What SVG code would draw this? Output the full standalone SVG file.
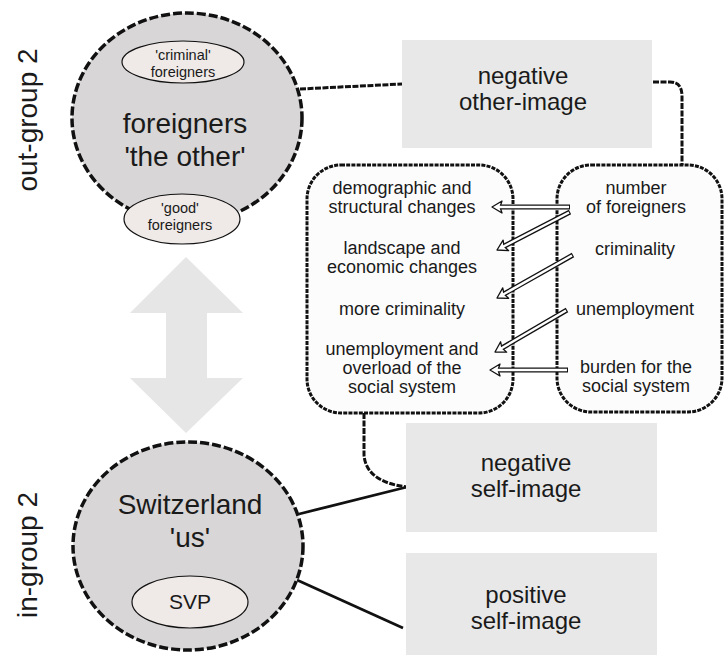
<svg xmlns="http://www.w3.org/2000/svg" width="726" height="655" viewBox="0 0 726 655">
<defs>
<style>
text{font-family:"Liberation Sans",Arial,sans-serif;fill:#1a1a1a;text-anchor:middle}
.big{font-size:28px}
.box{font-size:24px}
.mid{font-size:18px}
.sm{font-size:14.5px}
.grp{fill:#d8d6d6;stroke:#111;stroke-width:3.5;stroke-dasharray:9 3}
.oval{fill:#efe9e7;stroke:#111;stroke-width:1.2}
.rect{fill:#e8e8e8}
.rbox{fill:#fcfcfc;stroke:#111;stroke-width:3;stroke-dasharray:4 1.2}
.dash{fill:none;stroke:#111;stroke-width:3;stroke-dasharray:6 1.5}
.solid{fill:none;stroke:#111;stroke-width:2.8}
.ao{fill:none;stroke:#111;stroke-width:5}
.ai{fill:none;stroke:#fff;stroke-width:2.4}
.ah{fill:#fff;stroke:#111;stroke-width:1.3;stroke-linejoin:round}
</style>
<polygon id="ah" points="0,0 -10,-6 -8,0 -10,6"/>
</defs>
<rect width="726" height="655" fill="#fff"/>

<g id="labels">
<text class="big" transform="translate(37,120) rotate(-90)">out-group 2</text>
<text class="big" transform="translate(37,555) rotate(-90)">in-group 2</text>
</g>

<g id="double-arrow">
<polygon fill="#e6e6e6" points="186,257 243,313 207,313 207,378 243,378 186,433 130,378 166,378 166,313 130,313"/>
</g>

<g id="connectors">
<path class="dash" d="M300,89 L402,84"/>
<path class="dash" d="M653,82 H670 Q682,82 682,96 V166"/>
<path class="dash" d="M364,413 V455 Q366,482 407,487"/>
<path class="solid" d="M299,514 L407,487"/>
<path class="solid" d="M297,580 L403,628"/>
</g>

<g id="out-group">
<ellipse class="grp" cx="187" cy="118" rx="115" ry="105"/>
<text class="big" x="185" y="133">foreigners</text>
<text class="big" x="185" y="166">'the other'</text>
</g>
<g id="criminal-foreigners">
<ellipse class="oval" cx="183" cy="62" rx="61" ry="21"/>
<text class="sm" x="183" y="60">'criminal'</text>
<text class="sm" x="183" y="77">foreigners</text>
</g>
<g id="good-foreigners">
<ellipse class="oval" cx="182" cy="219" rx="58" ry="25"/>
<text class="sm" x="180" y="213">'good'</text>
<text class="sm" x="180" y="230">foreigners</text>
</g>

<g id="in-group">
<ellipse class="grp" cx="188" cy="546" rx="115" ry="104"/>
<text class="big" x="190" y="514">Switzerland</text>
<text class="big" x="190" y="547">'us'</text>
</g>
<g id="svp">
<ellipse class="oval" cx="190" cy="602" rx="58" ry="26"/>
<text x="190" y="609" style="font-size:21px">SVP</text>
</g>

<g id="negative-other-image">
<rect class="rect" x="402" y="40" width="250" height="108"/>
<text class="box" x="523" y="84">negative</text>
<text class="box" x="523" y="110">other-image</text>
</g>
<g id="negative-self-image">
<rect class="rect" x="406" y="423" width="251" height="109"/>
<text class="box" x="526" y="471">negative</text>
<text class="box" x="526" y="497">self-image</text>
</g>
<g id="positive-self-image">
<rect class="rect" x="406" y="553" width="251" height="102"/>
<text class="box" x="526" y="603">positive</text>
<text class="box" x="526" y="629">self-image</text>
</g>

<g id="consequences">
<rect class="rbox" x="307" y="165" width="206" height="248" rx="34"/>
<text class="mid" x="402" y="194">demographic and</text>
<text class="mid" x="402" y="213">structural changes</text>
<text class="mid" x="402" y="254">landscape and</text>
<text class="mid" x="402" y="273">economic changes</text>
<text class="mid" x="402" y="315">more criminality</text>
<text class="mid" x="402" y="355">unemployment and</text>
<text class="mid" x="402" y="374">overload of the</text>
<text class="mid" x="402" y="393">social system</text>
</g>
<g id="causes">
<rect class="rbox" x="557" y="165" width="165" height="247" rx="34"/>
<text class="mid" x="636" y="194">number</text>
<text class="mid" x="636" y="213">of foreigners</text>
<text class="mid" x="635" y="255">criminality</text>
<text class="mid" x="635" y="315">unemployment</text>
<text class="mid" x="636" y="373">burden for the</text>
<text class="mid" x="636" y="392">social system</text>
</g>

<g id="arrows">
<path class="ao" d="M570,207 L499,207"/>
<use href="#ah" class="ah" transform="translate(492,207) rotate(180)"/>
<path class="ai" d="M569,207 L496,207"/>

<path class="ao" d="M570,212 L503.5,246.5"/>
<use href="#ah" class="ah" transform="translate(497,250) rotate(152.5)"/>
<path class="ai" d="M569,212.5 L500.5,248"/>

<path class="ao" d="M573,255 L503,294.5"/>
<use href="#ah" class="ah" transform="translate(497,298) rotate(150.5)"/>
<path class="ai" d="M572,255.5 L500.5,296"/>

<path class="ao" d="M567,310 L501,348.5"/>
<use href="#ah" class="ah" transform="translate(495,352) rotate(149.7)"/>
<path class="ai" d="M566,310.5 L498.5,350"/>

<path class="ao" d="M568,370 L497,370"/>
<use href="#ah" class="ah" transform="translate(490,370) rotate(180)"/>
<path class="ai" d="M567,370 L494,370"/>
</g>
</svg>
